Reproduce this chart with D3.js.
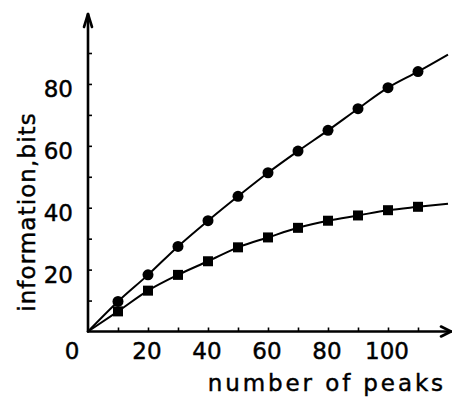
<!DOCTYPE html>
<html>
<head>
<meta charset="utf-8">
<script src="https://cdn.jsdelivr.net/npm/d3@7"></script>
<style>
  html, body { margin: 0; padding: 0; background: #fff; }
  svg text { font-family: "DejaVu Sans", sans-serif; fill: #000; stroke: #000; stroke-width: 0.45px; }
</style>
</head>
<body>
<svg id="chart" width="452" height="402"></svg>
<script>
// Number of peaks at which each measurement was taken
const peaks = [10, 20, 30, 40, 50, 60, 70, 80, 90, 100, 110];
// Information content (bits), circle series
const circleBits = [9.7, 18.3, 27.5, 35.8, 43.7, 51.3, 58.3, 65.0, 72.0, 78.8, 84.0];
// Information content (bits), square series
const squareBits = [6.5, 13.2, 18.3, 22.7, 27.2, 30.4, 33.5, 35.8, 37.5, 39.2, 40.3];
// Curves start at the origin and run on past the last point
const curveStart = [0, 0];
const circleCurveEnd = [120, 89.5];
const squareCurveEnd = [120, 41.3];

const xTickValues = [10, 20, 30, 40, 50, 60, 70, 80, 90, 100, 110];
const xTickLabels = [0, 20, 40, 60, 80, 100];
const yTickValues = [10, 20, 30, 40, 50, 60, 70, 80, 90];
const yTickLabels = [20, 40, 60, 80];

const svg = d3.select("#chart");

const x = d3.scaleLinear().domain([0, 120]).range([88, 448]);
const y = d3.scaleLinear().domain([0, 90]).range([331.5, 53]);

// Axes with inward ticks
const xAxis = d3.axisTop(x).tickValues(xTickValues).tickSize(4).tickFormat("");
const yAxis = d3.axisRight(y).tickValues(yTickValues).tickSize(4).tickFormat("");

const gx = svg.append("g").attr("transform", `translate(0,${y(0)})`).call(xAxis);
const gy = svg.append("g").attr("transform", `translate(${x(0)},0)`).call(yAxis);
gx.select(".domain").remove();
gy.select(".domain").remove();
svg.selectAll(".tick line").attr("stroke", "#000").attr("stroke-width", 1.6);

// Axis lines with open arrowheads
const axisG = svg.append("g").attr("stroke", "#000").attr("fill", "none")
  .attr("stroke-width", 2.6).attr("stroke-linecap", "round").attr("stroke-linejoin", "round");
axisG.append("line").attr("x1", x(0)).attr("y1", y(0)).attr("x2", 451).attr("y2", y(0));
axisG.append("path").attr("d", `M441,${y(0) - 5}L451,${y(0)}L441,${y(0) + 5}`);
axisG.append("line").attr("x1", x(0)).attr("y1", y(0)).attr("x2", x(0)).attr("y2", 14);
axisG.append("path").attr("d", `M${x(0) - 4},27L${x(0)},14L${x(0) + 4},27`);

// Tick labels
svg.append("g").selectAll("text").data(xTickLabels).join("text")
  .attr("x", d => d === 0 ? x(0) - 16 : x(d) - 1)
  .attr("y", 359)
  .attr("text-anchor", "middle")
  .style("font-size", "23px")
  .text(d => d);

svg.append("g").selectAll("text").data(yTickLabels).join("text")
  .attr("x", 73)
  .attr("y", d => y(d) + 13.5)
  .attr("text-anchor", "end")
  .style("font-size", "23px")
  .text(d => d);

// Axis titles
svg.append("text")
  .attr("x", 446).attr("y", 391)
  .attr("text-anchor", "end")
  .style("font-size", "23px")
  .style("letter-spacing", "2.9px")
  .text("number of peaks");

svg.append("text")
  .attr("transform", "translate(35,212) rotate(-90)")
  .attr("text-anchor", "middle")
  .style("font-size", "23px")
  .style("letter-spacing", "1.1px")
  .text("information,bits");

// Curves
const line = d3.line().x(d => x(d[0])).y(d => y(d[1])).curve(d3.curveMonotoneX);
const circlePts = peaks.map((p, i) => [p, circleBits[i]]);
const squarePts = peaks.map((p, i) => [p, squareBits[i]]);

svg.append("path")
  .datum([curveStart, ...circlePts, circleCurveEnd])
  .attr("d", line).attr("fill", "none").attr("stroke", "#000").attr("stroke-width", 2);
svg.append("path")
  .datum([curveStart, ...squarePts, squareCurveEnd])
  .attr("d", line).attr("fill", "none").attr("stroke", "#000").attr("stroke-width", 2);

// Markers
svg.append("g").selectAll("circle").data(circlePts).join("circle")
  .attr("cx", d => x(d[0])).attr("cy", d => y(d[1])).attr("r", 5.5).attr("fill", "#000");

const sq = 10;
svg.append("g").selectAll("rect").data(squarePts).join("rect")
  .attr("x", d => x(d[0]) - sq / 2).attr("y", d => y(d[1]) - sq / 2)
  .attr("width", sq).attr("height", sq).attr("fill", "#000");
</script>
</body>
</html>
